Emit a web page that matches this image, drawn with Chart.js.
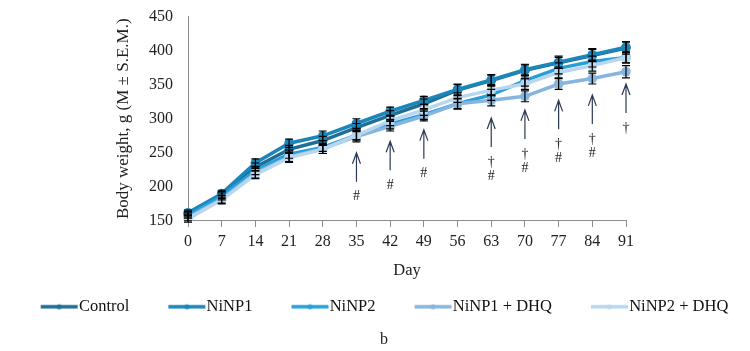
<!DOCTYPE html>
<html>
<head>
<meta charset="utf-8">
<script src="https://cdn.jsdelivr.net/npm/chart.js@4/dist/chart.umd.min.js"></script>
<style>
  html, body { margin: 0; padding: 0; background: #fff; }
  #wrap { width: 750px; height: 351px; }
</style>
</head>
<body>
<div id="wrap"><canvas id="weightChart"></canvas></div>
<script>
// days of observation (x categories)
const days = ['0', '7', '14', '21', '28', '35', '42', '49', '56', '63', '70', '77', '84', '91'];

// mean body weight, g
const control = [160, 188, 229, 255, 268, 287, 305, 322, 342, 356, 371, 382, 393, 404];
const ninp1   = [162, 190, 235, 264, 275, 293, 311, 327, 343, 357, 372, 383, 394, 405];
const ninp2   = [158, 186, 224, 248, 258, 276, 292, 306, 322, 335, 356, 374, 384, 390];
const ninp1Dhq = [155, 182, 220, 244, 256, 274, 289, 304, 322, 327, 333, 351, 359, 369];
const ninp2Dhq = [153, 181, 218, 243, 255, 276, 297, 313, 331, 342, 351, 368, 378, 390];

// S.E.M.
const semControl  = [4, 5, 6, 6, 6, 6, 7, 7, 8, 8, 8, 8, 9, 9];
const semNinp1    = [4, 5, 6, 6, 7, 7, 6, 6, 8, 8, 8, 9, 9, 8];
const semNinp2    = [4, 5, 6, 6, 6, 7, 7, 7, 7, 8, 8, 8, 8, 8];
const semNinp1Dhq = [5, 6, 7, 7, 7, 8, 7, 7, 8, 8, 8, 8, 8, 9];
const semNinp2Dhq = [5, 6, 6, 7, 6, 7, 7, 8, 7, 8, 8, 8, 8, 8];

// significance marks: day, arrow tip (g), symbols under the arrow
const markDays = ['35', '42', '49', '63', '70', '77', '84', '91'];
const markTips = [250, 267, 284, 301, 313, 327, 335, 351];
const markText = [['#'], ['#'], ['#'], ['\u2020', '#'], ['\u2020', '#'], ['\u2020', '#'], ['\u2020', '#'], ['\u2020']];

const seriesNames = ['Control', 'NiNP1', 'NiNP2', 'NiNP1 + DHQ', 'NiNP2 + DHQ'];
const seriesColors = ['#1e6e96', '#1c86bb', '#27a0da', '#86b6df', '#b9d6ef'];

const FONT = '"Liberation Serif", "Times New Roman", serif';
const LEGEND_FONT = 16.5;

// little line+dot pictures for the legend
const LEGEND_BOX = 63;
function legendIcon(color) {
    const c = document.createElement('canvas');
    c.width = LEGEND_BOX + LEGEND_FONT;
    c.height = 10;
    const g = c.getContext('2d');
    g.strokeStyle = color;
    g.lineWidth = 3.5;
    g.beginPath();
    g.moveTo(c.width - 38, 5);
    g.lineTo(c.width - 1, 5);
    g.stroke();
    g.fillStyle = color;
    g.beginPath();
    g.arc(c.width - 19.5, 5, 2.6, 0, Math.PI * 2);
    g.fill();
    return c;
}
const legendIcons = seriesColors.map(legendIcon);

const errorBars = {
    id: 'errorBars',
    afterDatasetsDraw(chart) {
        const {ctx, scales: {x, y}} = chart;
        ctx.save();
        ctx.strokeStyle = '#000';
        ctx.lineWidth = 1.2;
        chart.data.datasets.forEach(ds => {
            ds.data.forEach((v, j) => {
                const px = x.getPixelForValue(j);
                const top = y.getPixelForValue(v + ds.sem[j]);
                const bot = y.getPixelForValue(v - ds.sem[j]);
                ctx.beginPath();
                ctx.moveTo(px, top); ctx.lineTo(px, bot);
                ctx.moveTo(px - 4, top); ctx.lineTo(px + 4, top);
                ctx.moveTo(px - 4, bot); ctx.lineTo(px + 4, bot);
                ctx.stroke();
            });
        });
        ctx.restore();
    }
};

const marks = {
    id: 'marks',
    afterDatasetsDraw(chart) {
        const {ctx, scales: {x, y}} = chart;
        ctx.save();
        ctx.strokeStyle = '#2b3a55';
        ctx.lineWidth = 1.2;
        ctx.fillStyle = '#222';
        ctx.font = '14px ' + FONT;
        ctx.textAlign = 'center';
        ctx.textBaseline = 'middle';
        markDays.forEach((d, k) => {
            const px = x.getPixelForValue(days.indexOf(d));
            const tip = y.getPixelForValue(markTips[k]);
            const base = tip + 29;
            ctx.beginPath();
            ctx.moveTo(px, tip); ctx.lineTo(px, base);
            ctx.moveTo(px - 4, tip + 11); ctx.lineTo(px, tip); ctx.lineTo(px + 4, tip + 11);
            ctx.stroke();
            markText[k].forEach((s, n) => ctx.fillText(s, px, base + 15 + n * 14));
        });
        ctx.restore();
    }
};

// the panel letter sits a bit right of the canvas centre, under the legend's middle
const nudgeTitle = {
    id: 'nudgeTitle',
    afterLayout(chart) {
        if (chart.titleBlock) chart.titleBlock.left += 32;
    }
};

const values = [control, ninp1, ninp2, ninp1Dhq, ninp2Dhq];
const sems = [semControl, semNinp1, semNinp2, semNinp1Dhq, semNinp2Dhq];

new Chart(document.getElementById('weightChart'), {
    type: 'line',
    data: {
        labels: days,
        datasets: values.map((v, i) => ({
            label: seriesNames[i],
            data: v,
            sem: sems[i],
            borderColor: seriesColors[i],
            backgroundColor: seriesColors[i],
            pointBackgroundColor: seriesColors[i],
            pointBorderWidth: 0,
            pointRadius: 4.8,
            borderWidth: 3.5,
            tension: 0,
            order: 5 - i
        }))
    },
    options: {
        responsive: true,
        maintainAspectRatio: false,
        animation: false,
        layout: { padding: { top: 6, right: 14, bottom: 0, left: 0 } },
        scales: {
            x: {
                offset: false,
                grid: { drawOnChartArea: false, drawTicks: true, tickLength: 6, color: '#8c8c8c' },
                border: { color: '#8c8c8c' },
                ticks: { color: '#222', padding: 5, font: { family: FONT, size: 16 }, maxRotation: 0, autoSkip: false },
                title: { display: true, text: 'Day', color: '#222', font: { family: FONT, size: 16.5 }, padding: { top: 5, bottom: 11.6 } },
                afterFit(s) { s.paddingRight = 124; }
            },
            y: {
                min: 150,
                max: 450,
                grid: { display: false },
                border: { color: '#8c8c8c' },
                ticks: { stepSize: 50, color: '#222', padding: 7, font: { family: FONT, size: 16 } },
                title: { display: true, text: 'Body weight, g (M \u00b1 S.E.M.)', color: '#222', font: { family: FONT, size: 17 }, padding: { top: 113, bottom: 0 } },
                afterFit(s) { s.width = 188; }
            }
        },
        plugins: {
            legend: {
                position: 'bottom',
                labels: {
                    color: '#111',
                    font: { family: FONT, size: LEGEND_FONT },
                    padding: 6,
                    usePointStyle: true,
                    pointStyleWidth: LEGEND_BOX,
                    generateLabels(chart) {
                        const items = Chart.defaults.plugins.legend.labels.generateLabels(chart);
                        items.forEach(it => { it.pointStyle = legendIcons[it.datasetIndex]; });
                        return items.sort((a, b) => a.datasetIndex - b.datasetIndex);
                    }
                }
            },
            title: {
                display: true,
                position: 'bottom',
                text: 'b',
                color: '#222',
                font: { family: FONT, size: 16, weight: 'normal' },
                padding: { top: 5.4, bottom: 1.4 }
            },
            tooltip: { enabled: false }
        }
    },
    plugins: [errorBars, marks, nudgeTitle]
});
</script>
</body>
</html>
